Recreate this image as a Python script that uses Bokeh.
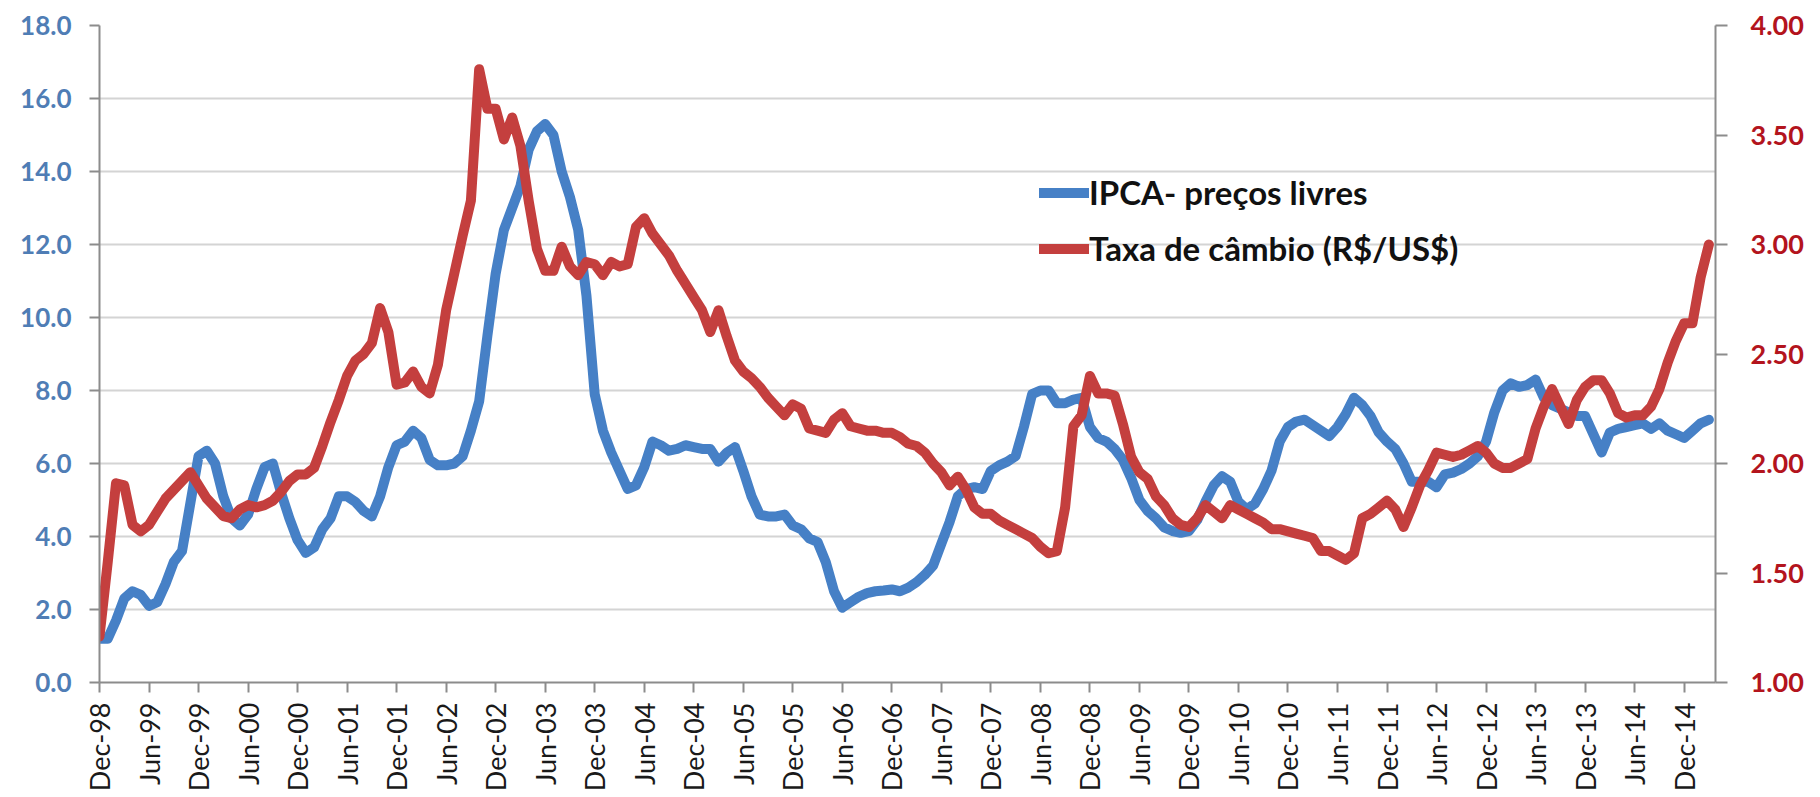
import math
from bokeh.plotting import figure
from bokeh.models import (Range1d, LinearAxis, FixedTicker, Legend, LegendItem,
                          NumeralTickFormatter)
from bokeh.embed import file_html
from bokeh.resources import INLINE

# monthly observations, Dec-98 (index 0) .. Mar-15 (index 195)
month_index = list(range(196))

ipca_livres = [
    1.2, 1.2, 1.7, 2.3, 2.5, 2.4, 2.1, 2.2, 2.7, 3.3, 3.6, 4.9,
    6.2, 6.35, 6.0, 5.1, 4.5, 4.3, 4.6, 5.3, 5.9, 6.0, 5.2, 4.5,
    3.9, 3.55, 3.7, 4.2, 4.5, 5.1, 5.1, 4.95, 4.7, 4.55, 5.1, 5.9,
    6.5, 6.6, 6.9, 6.7, 6.1, 5.95, 5.95, 6.0, 6.2, 6.9, 7.7, 9.5,
    11.2, 12.4, 13.0, 13.6, 14.6, 15.1, 15.3, 15.0, 14.0, 13.3, 12.4, 10.6,
    7.9, 6.9, 6.3, 5.8, 5.3, 5.4, 5.9, 6.6, 6.5, 6.35, 6.4, 6.5,
    6.45, 6.4, 6.4, 6.05, 6.3, 6.45, 5.8, 5.1, 4.6, 4.55, 4.55, 4.6,
    4.3, 4.2, 3.95, 3.85, 3.3, 2.5, 2.05, 2.2, 2.35, 2.45, 2.5, 2.52,
    2.55, 2.5, 2.6, 2.75, 2.95, 3.2, 3.8, 4.4, 5.1, 5.3, 5.35, 5.3,
    5.8, 5.95, 6.05, 6.2, 7.0, 7.9, 8.0, 8.0, 7.65, 7.65, 7.75, 7.8,
    7.0, 6.7, 6.6, 6.4, 6.1, 5.6, 5.0, 4.7, 4.5, 4.25, 4.15, 4.1,
    4.15, 4.45, 4.95, 5.4, 5.65, 5.5, 4.95, 4.75, 4.9, 5.3, 5.8, 6.6,
    7.0, 7.15, 7.2, 7.05, 6.9, 6.75, 7.0, 7.35, 7.8, 7.6, 7.3, 6.85,
    6.6, 6.4, 6.0, 5.5, 5.5, 5.5, 5.35, 5.7, 5.75, 5.85, 6.0, 6.2,
    6.6, 7.4, 8.0, 8.2, 8.1, 8.15, 8.3, 7.8, 7.6, 7.5, 7.4, 7.3,
    7.3, 6.8, 6.3, 6.85, 6.95, 7.0, 7.05, 7.1, 6.95, 7.1, 6.9, 6.8,
    6.7, 6.9, 7.1, 7.2,
]

taxa_cambio = [
    1.21, 1.55, 1.91, 1.90, 1.72, 1.69, 1.72, 1.78, 1.84, 1.88, 1.92, 1.96,
    1.90, 1.84, 1.80, 1.76, 1.75, 1.79, 1.81, 1.80, 1.81, 1.83, 1.87, 1.92,
    1.95, 1.95, 1.98, 2.08, 2.19, 2.29, 2.40, 2.47, 2.50, 2.55, 2.71, 2.60,
    2.36, 2.37, 2.42, 2.35, 2.32, 2.45, 2.70, 2.87, 3.04, 3.20, 3.80, 3.62,
    3.62, 3.48, 3.58, 3.45, 3.20, 2.98, 2.88, 2.88, 2.99, 2.90, 2.86, 2.92,
    2.91, 2.86, 2.92, 2.90, 2.91, 3.08, 3.12, 3.05, 3.00, 2.95, 2.88, 2.82,
    2.76, 2.70, 2.60, 2.70, 2.58, 2.47, 2.42, 2.39, 2.35, 2.30, 2.26, 2.22,
    2.27, 2.25, 2.16, 2.15, 2.14, 2.20, 2.23, 2.17, 2.16, 2.15, 2.15, 2.14,
    2.14, 2.12, 2.09, 2.08, 2.05, 2.00, 1.96, 1.90, 1.94, 1.88, 1.80, 1.77,
    1.77, 1.74, 1.72, 1.70, 1.68, 1.66, 1.62, 1.59, 1.60, 1.80, 2.17, 2.22,
    2.40, 2.32, 2.32, 2.31, 2.18, 2.03, 1.96, 1.93, 1.85, 1.81, 1.75, 1.72,
    1.71, 1.75, 1.81, 1.78, 1.75, 1.81, 1.79, 1.77, 1.75, 1.73, 1.70, 1.70,
    1.69, 1.68, 1.67, 1.66, 1.60, 1.60, 1.58, 1.56, 1.59, 1.75, 1.77, 1.80,
    1.83, 1.79, 1.71, 1.80, 1.90, 1.97, 2.05, 2.04, 2.03, 2.04, 2.06, 2.08,
    2.05, 2.00, 1.98, 1.98, 2.00, 2.02, 2.16, 2.26, 2.34, 2.26, 2.18, 2.29,
    2.35, 2.38, 2.38, 2.32, 2.23, 2.21, 2.22, 2.22, 2.26, 2.34, 2.46, 2.56,
    2.64, 2.64, 2.85, 3.00,
]

tick_labels = [
    "Dec-98", "Jun-99", "Dec-99", "Jun-00", "Dec-00", "Jun-01", "Dec-01",
    "Jun-02", "Dec-02", "Jun-03", "Dec-03", "Jun-04", "Dec-04", "Jun-05",
    "Dec-05", "Jun-06", "Dec-06", "Jun-07", "Dec-07", "Jun-08", "Dec-08",
    "Jun-09", "Dec-09", "Jun-10", "Dec-10", "Jun-11", "Dec-11", "Jun-12",
    "Dec-12", "Jun-13", "Dec-13", "Jun-14", "Dec-14",
]
tick_months = [6 * i for i in range(len(tick_labels))]

left_ticks = [0, 2, 4, 6, 8, 10, 12, 14, 16, 18]
right_ticks = [1.0, 1.5, 2.0, 2.5, 3.0, 3.5, 4.0]

BLUE = "#4680c6"
RED = "#c43f3e"
AXIS = "#8c8c8c"
GRID = "#d4d4d4"
FONT = "Lato"

p = figure(width=1818, height=795, output_backend="svg", toolbar_location=None,
           x_range=Range1d(0, 195.8), y_range=Range1d(0, 18),
           min_border_left=99, min_border_right=103, min_border_top=25,
           min_border_bottom=113)
p.outline_line_color = None
p.background_fill_color = "white"
p.xgrid.grid_line_color = None
p.ygrid.grid_line_color = GRID
p.ygrid.grid_line_width = 2
p.ygrid.ticker = FixedTicker(ticks=left_ticks)

p.extra_y_ranges = {"fx": Range1d(1, 4)}

# left axis
ya = p.yaxis[0]
ya.ticker = FixedTicker(ticks=left_ticks)
ya.formatter = NumeralTickFormatter(format="0.0")
ya.axis_line_color = AXIS
ya.axis_line_width = 2
ya.major_tick_line_color = AXIS
ya.major_tick_line_width = 2
ya.major_tick_out = 10
ya.major_tick_in = 0
ya.minor_tick_line_color = None
ya.major_label_standoff = 18
ya.major_label_text_font = FONT
ya.major_label_text_font_style = "bold"
ya.major_label_text_font_size = "26px"
ya.major_label_text_color = "#4f7db5"

# bottom axis
xa = p.xaxis[0]
xa.ticker = FixedTicker(ticks=tick_months)
xa.major_label_overrides = {m: lab for m, lab in zip(tick_months, tick_labels)}
xa.major_label_orientation = math.pi / 2
xa.axis_line_color = AXIS
xa.axis_line_width = 2
xa.major_tick_line_color = AXIS
xa.major_tick_line_width = 2
xa.major_tick_out = 10
xa.major_tick_in = 0
xa.minor_tick_line_color = None
xa.major_label_standoff = 10
xa.major_label_text_font = FONT
xa.major_label_text_font_size = "27px"
xa.major_label_text_color = "#1a1a1a"

# right axis
ra = LinearAxis(y_range_name="fx", ticker=FixedTicker(ticks=right_ticks),
                formatter=NumeralTickFormatter(format="0.00"))
ra.axis_line_color = AXIS
ra.axis_line_width = 2
ra.major_tick_line_color = AXIS
ra.major_tick_line_width = 2
ra.major_tick_out = 12
ra.major_tick_in = 0
ra.minor_tick_line_color = None
ra.major_label_standoff = 23
ra.major_label_text_font = FONT
ra.major_label_text_font_style = "bold"
ra.major_label_text_font_size = "27px"
ra.major_label_text_color = "#b3141d"
p.add_layout(ra, "right")

r1 = p.line(month_index, ipca_livres, line_color=BLUE, line_width=10,
            line_join="round", line_cap="round")
r2 = p.line(month_index, taxa_cambio, line_color=RED, line_width=10,
            line_join="round", line_cap="round", y_range_name="fx")

legend = Legend(items=[LegendItem(label="IPCA- preços livres", renderers=[r1]),
                       LegendItem(label="Taxa de câmbio (R$/US$)", renderers=[r2])],
                location=(940, 414), orientation="vertical",
                background_fill_alpha=0, border_line_alpha=0,
                label_text_font=FONT, label_text_font_style="bold",
                label_text_font_size="33px", label_text_color="#111111",
                glyph_width=50, glyph_height=33, label_standoff=0,
                padding=0, margin=0, spacing=16)
p.add_layout(legend)

open("out.html", "w").write(file_html(p, INLINE))
